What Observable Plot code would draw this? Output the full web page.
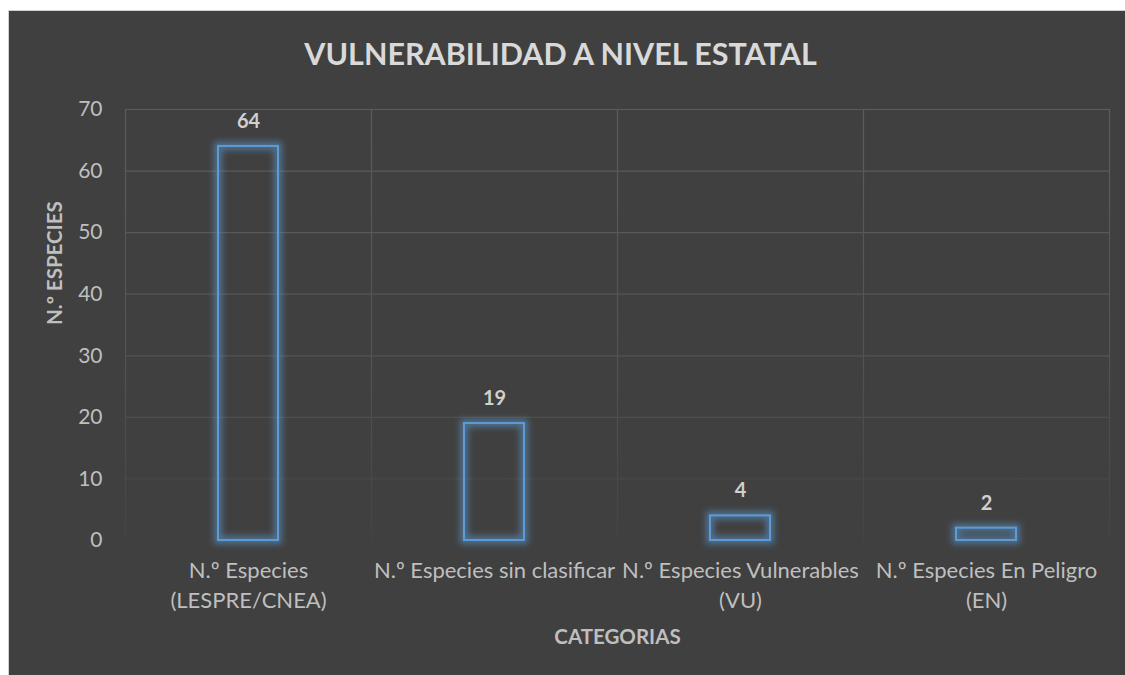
<!DOCTYPE html>
<html>
<head>
<meta charset="utf-8">
<script src="https://cdn.jsdelivr.net/npm/d3@7"></script>
<script src="https://cdn.jsdelivr.net/npm/@observablehq/plot@0.6"></script>
<style>
  html, body { margin: 0; padding: 0; background: #ffffff; width: 1125px; height: 675px; overflow: hidden; }
  #panel { position: absolute; left: 8px; top: 10px; width: 1117px; height: 665px; background: #404040; border-top: 1px solid #d0d0d0; border-left: 1px solid #d0d0d0; box-sizing: border-box; }
  #chart { position: absolute; left: 8px; top: 10px; }
</style>
</head>
<body>
<div id="panel"></div>
<div id="chart"></div>
<script>
const title = "VULNERABILIDAD A NIVEL ESTATAL";
const xTitle = "CATEGORIAS";
const yTitle = "N.º ESPECIES";
const categories = [
  "N.º Especies\n(LESPRE/CNEA)",
  "N.º Especies sin clasificar",
  "N.º Especies Vulnerables\n(VU)",
  "N.º Especies En Peligro\n(EN)"
];
const values = [64, 19, 4, 2];
const yTicks = [0, 10, 20, 30, 40, 50, 60, 70];

const data = categories.map((c, i) => ({category: c, value: values[i]}));

const W = 1117, H = 665;
const mL = 117, mR = 16, mT = 99, mB = 135;
const step = (W - mL - mR) / categories.length;

const plot = Plot.plot({
  width: W,
  height: H,
  marginLeft: mL,
  marginRight: mR,
  marginTop: mT,
  marginBottom: mB,
  style: {background: "transparent", fontFamily: "Lato, 'Open Sans', sans-serif", color: "#bfbfbf", overflow: "visible"},
  x: {domain: categories, paddingInner: 0.756, paddingOuter: 0.378, label: null},
  y: {domain: [0, 70], label: null},
  marks: [
    Plot.ruleY(yTicks.filter(d => d > 0), {stroke: "url(#gridfade)", strokeWidth: 1.2}),
    Plot.ruleX(categories, {x: d => d, dx: -step / 2, y1: 0, y2: 70, stroke: "url(#gridfade)", strokeWidth: 1.2}),
    Plot.ruleX([categories[categories.length - 1]], {x: d => d, dx: step / 2, y1: 0, y2: 70, stroke: "url(#gridfade)", strokeWidth: 1.2}),
    Plot.barY(data, {x: "category", y: "value", fill: "none", stroke: "#5b9bd5", strokeWidth: 2}),
    Plot.text(data, {x: "category", y: "value", text: d => String(d.value), dy: -25, fontSize: 20, fontWeight: "bold", fill: "#d0d0d0"}),
    Plot.axisY({ticks: yTicks, tickSize: 0, tickPadding: 23, fontSize: 21, label: null, fill: "#bfbfbf"}),
    Plot.axisX({tickSize: 0, tickPadding: 16, fontSize: 22, lineHeight: 1.36, label: null, fill: "#bfbfbf"}),
    Plot.text([title], {frameAnchor: "top", lineAnchor: "middle", dx: -57, dy: -54, fontSize: 30.5, fontWeight: "bold", fill: "#d9d9d9"}),
    Plot.text([xTitle], {frameAnchor: "bottom", lineAnchor: "middle", dy: 97, fontSize: 20.5, fontWeight: "bold", fill: "#bfbfbf"}),
    Plot.text([yTitle], {frameAnchor: "left", lineAnchor: "middle", dx: -70, rotate: -90, fontSize: 20.5, fontWeight: "bold", fill: "#bfbfbf"})
  ]
});

// glow filter and fading grid gradient
const svg = d3.select(plot);
const defs = svg.insert("defs", ":first-child");
const f = defs.append("filter").attr("id", "glow").attr("filterUnits", "userSpaceOnUse")
  .attr("x", 0).attr("y", 0).attr("width", W).attr("height", H);
f.append("feMorphology").attr("in", "SourceAlpha").attr("operator", "dilate").attr("radius", 2.5).attr("result", "thick");
f.append("feGaussianBlur").attr("in", "thick").attr("stdDeviation", 3).attr("result", "blur");
f.append("feFlood").attr("flood-color", "#5b9bd5").attr("flood-opacity", 0.55).attr("result", "color");
f.append("feComposite").attr("in", "color").attr("in2", "blur").attr("operator", "in").attr("result", "glow");
const m = f.append("feMerge");
m.append("feMergeNode").attr("in", "glow");
m.append("feMergeNode").attr("in", "SourceGraphic");
const g = defs.append("linearGradient").attr("id", "gridfade").attr("gradientUnits", "userSpaceOnUse")
  .attr("x1", 0).attr("x2", 0).attr("y1", mT).attr("y2", H - mB);
g.append("stop").attr("offset", "0%").attr("stop-color", "#5c5c5c");
g.append("stop").attr("offset", "60%").attr("stop-color", "#525252");
g.append("stop").attr("offset", "100%").attr("stop-color", "#444444");
svg.selectAll("g").filter(function() { return this.getAttribute("aria-label") === "bar"; }).attr("filter", "url(#glow)");

document.getElementById("chart").appendChild(plot);
</script>
</body>
</html>
